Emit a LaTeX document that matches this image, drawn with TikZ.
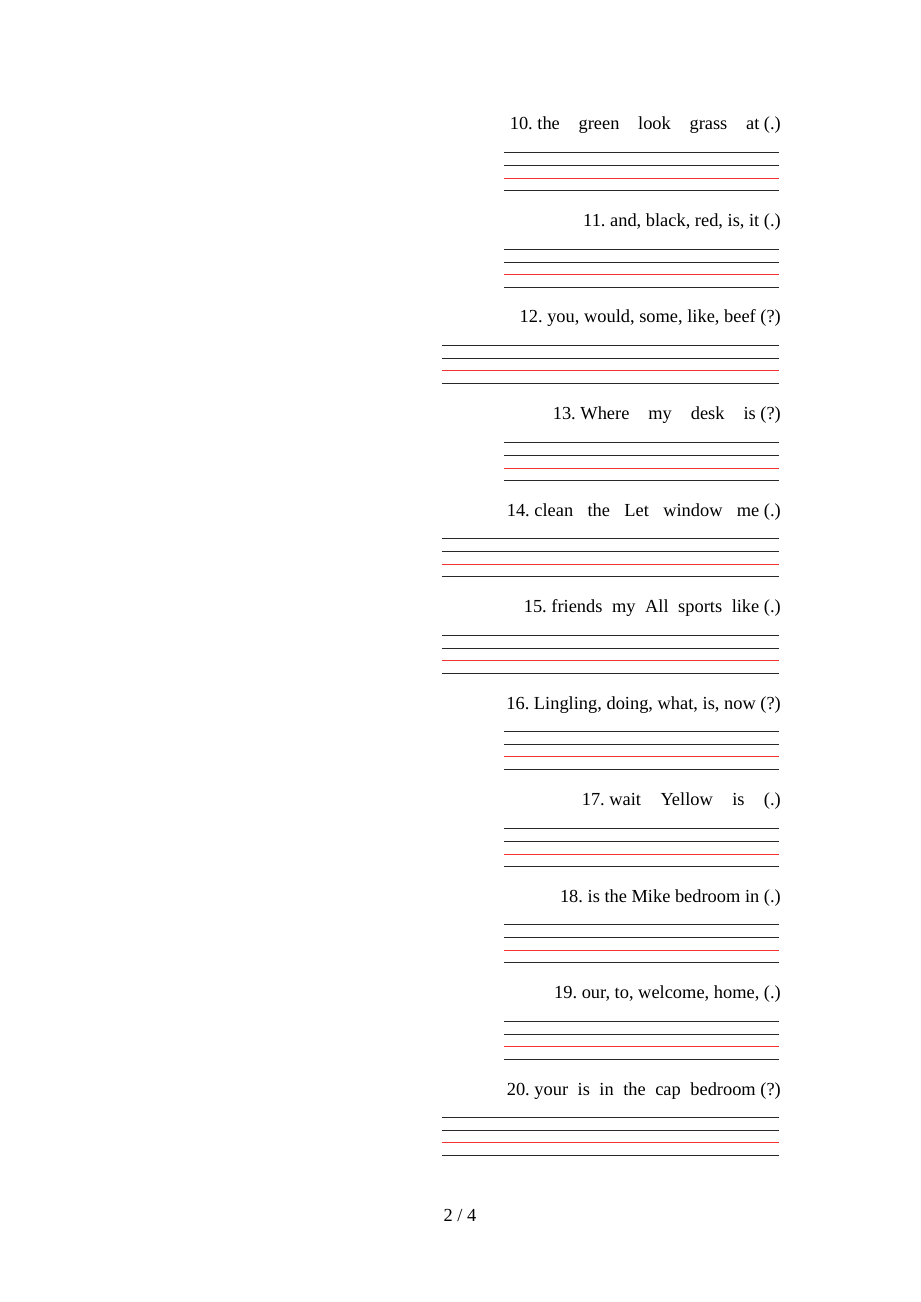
\documentclass[tikz,border=0pt]{standalone}
\usepackage{fontspec}
\setmainfont{Liberation Serif}
\frenchspacing
\definecolor{ink}{RGB}{40,40,40}
\definecolor{redline}{RGB}{245,50,50}
\begin{document}
\begin{tikzpicture}[x=1bp,y=-1bp,
  q/.style={anchor=base east, inner sep=0pt, font=\fontsize{18.4bp}{22bp}\selectfont},
  rl/.style={line width=1.1bp, draw=ink},
  rr/.style={line width=1.3bp, draw=redline}]
\useasboundingbox[fill=white] (0,0) rectangle (920,1302);
% questions
\node[q] (t10) at (781,130)    {\makebox[271bp][l]{10. the\hfill green\hfill look\hfill grass\hfill at (.)}};
\node[q] (t11) at (781,226.5)  {11. and, black, red, is, it (.)};
\node[q] (t12) at (781,323)    {12. you, would, some, like, beef (?)};
\node[q] (t13) at (781,419.5)  {\makebox[228bp][l]{13. Where\hfill my\hfill desk\hfill is (?)}};
\node[q] (t14) at (781,516)    {\makebox[274bp][l]{14. clean\hfill the\hfill Let\hfill window\hfill me (.)}};
\node[q] (t15) at (781,612.5)  {\makebox[257bp][l]{15. friends\hfill my\hfill All\hfill sports\hfill like (.)}};
\node[q] (t16) at (781,709)    {16. Lingling, doing, what, is, now (?)};
\node[q] (t17) at (781,805.5)  {\makebox[199bp][l]{17. wait\hfill Yellow\hfill is\hfill (.)}};
\node[q] (t18) at (781,902)    {18. is the Mike bedroom in (.)};
\node[q] (t19) at (781,998.5)  {19. our, to, welcome, home, (.)};
\node[q] (t20) at (781,1095)   {\makebox[274bp][l]{20. your\hfill is\hfill in\hfill the\hfill cap\hfill bedroom (?)}};
% writing lines
\foreach \i/\s in {0/504,1/504,2/442,3/504,4/442,5/442,6/504,7/504,8/504,9/504,10/442} {
  \pgfmathsetmacro\yy{round(152+96.5*\i)+0.5}
  \pgfmathsetmacro\ya{\yy+13}
  \pgfmathsetmacro\yb{2*floor((\yy+25.6)/2)+0.5}
  \pgfmathsetmacro\yc{\yy+38}
  \draw[rl] (\s,\yy) -- (779,\yy);
  \draw[rl] (\s,\ya) -- (779,\ya);
  \draw[rr] (\s,\yb) -- (779,\yb);
  \draw[rl] (\s,\yc) -- (779,\yc);
}
% page number
\node[anchor=base, inner sep=0pt, font=\fontsize{18.4bp}{22bp}\selectfont] (pg) at (460,1221) {2 / 4};
\end{tikzpicture}
\end{document}
